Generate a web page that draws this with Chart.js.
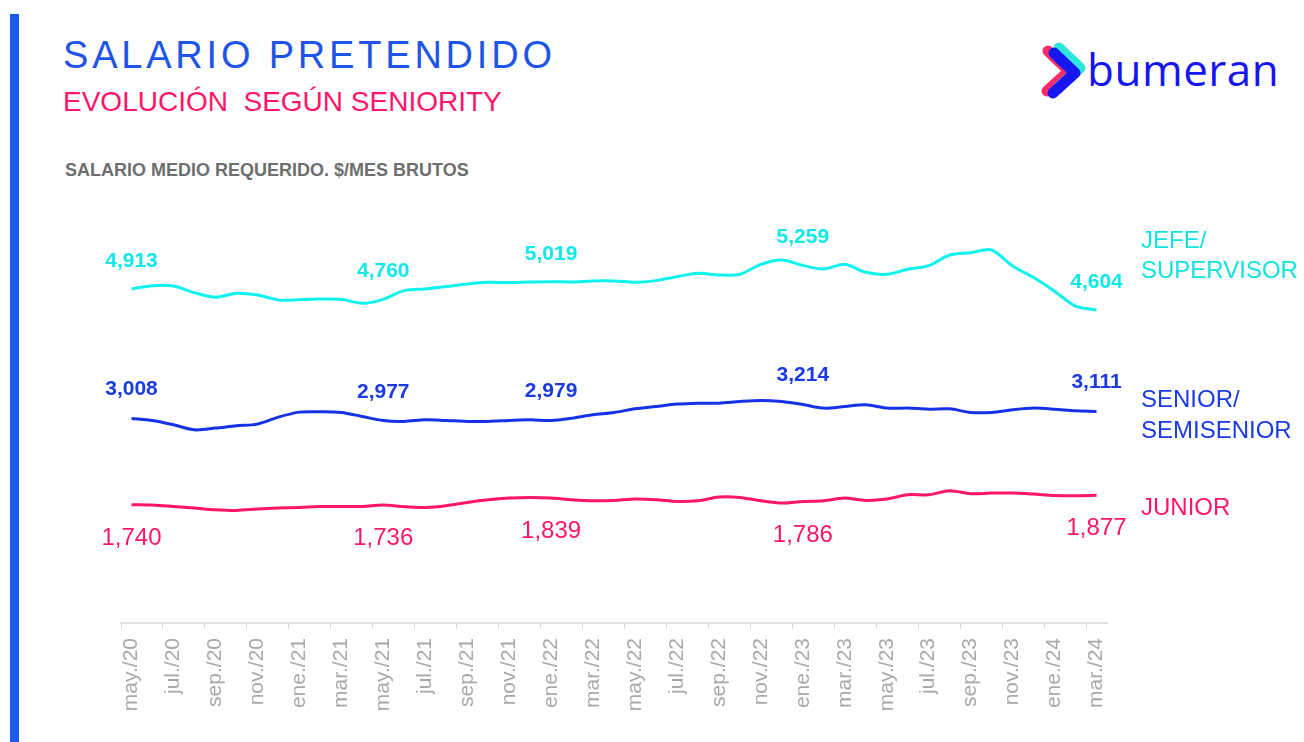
<!DOCTYPE html>
<html>
<head>
<meta charset="utf-8">
<script src="https://cdn.jsdelivr.net/npm/chart.js@4.4.1/dist/chart.umd.min.js"></script>
<style>
  html, body { margin: 0; padding: 0; background: #fff; }
  body { width: 1304px; height: 742px; position: relative; overflow: hidden; font-family: 'Liberation Sans', Arial, sans-serif; }
  #chartV { position: absolute; left: 0; top: 0; }
  .txt { position: absolute; white-space: nowrap; }
  #bar { position: absolute; left: 10px; top: 14px; width: 9px; height: 728px; background: #1f5af0; }
  #title { left: 63px; top: 36px; font-size: 38px; line-height: 38px; color: #1f55e6; letter-spacing: 3.8px; }
  #subtitle { left: 63px; top: 88px; font-size: 28px; line-height: 28px; color: #ff1569; }
  #unit { left: 65px; top: 161px; font-size: 18px; line-height: 18px; font-weight: bold; color: #6e6e6e; }
  .serie { font-size: 24px; line-height: 30px; left: 1141px; }
  #logoTxt { left: 1087px; top: 47px; font-family: 'Open Sans', sans-serif; font-size: 44px; line-height: 44px; font-weight: 500; color: #1616ee; letter-spacing: 0.5px; }
  #logoMark { position: absolute; left: 0; top: 0; }
</style>
</head>
<body>
<div id="bar"></div>
<div class="txt" id="title">SALARIO PRETENDIDO</div>
<div class="txt" id="subtitle">EVOLUCIÓN&nbsp; SEGÚN SENIORITY</div>
<div class="txt" id="unit">SALARIO MEDIO REQUERIDO. $/MES BRUTOS</div>
<svg id="logoMark" width="1304" height="120">
  <polyline points="1048,51 1069,71 1047,91" fill="none" stroke="#ff2a6a" stroke-width="11" stroke-linecap="round" stroke-linejoin="round"/>
  <polyline points="1059,48 1080,68 1058,88" fill="none" stroke="#2ee6dc" stroke-width="11" stroke-linecap="round" stroke-linejoin="round"/>
  <polyline points="1054,53 1075,73 1053,93" fill="none" stroke="#1616ee" stroke-width="11" stroke-linecap="round" stroke-linejoin="round"/>
</svg>
<div class="txt" id="logoTxt">bumeran</div>
<canvas id="chartV" width="1304" height="742"></canvas>
<div class="txt serie" style="top:225px;color:#12e2de">JEFE/<br>SUPERVISOR</div>
<div class="txt serie" style="top:383px;line-height:31px;color:#1a3be3">SENIOR/<br>SEMISENIOR</div>
<div class="txt serie" style="top:492px;color:#ff1569">JUNIOR</div>
<script>
// meses (eje x)
var months = [
  'may./20','jun./20','jul./20','ago./20','sep./20','oct./20','nov./20','dic./20',
  'ene./21','feb./21','mar./21','abr./21','may./21','jun./21','jul./21','ago./21','sep./21','oct./21','nov./21','dic./21',
  'ene./22','feb./22','mar./22','abr./22','may./22','jun./22','jul./22','ago./22','sep./22','oct./22','nov./22','dic./22',
  'ene./23','feb./23','mar./23','abr./23','may./23','jun./23','jul./23','ago./23','sep./23','oct./23','nov./23','dic./23',
  'ene./24','feb./24','mar./24'
];

// salario medio requerido por seniority
var jefe = [4913,4961,4956,4858,4790,4849,4824,4751,4755,4765,4761,4702,4760,4888,4913,4947,4986,5011,5006,5016,
  5019,5016,5030,5030,5011,5035,5094,5143,5118,5128,5275,5339,5259,5206,5275,5157,5128,5202,5255,5412,
  5446,5486,5250,5080,4880,4660,4604];
var senior = [3008,2978,2915,2841,2866,2900,2925,3028,3101,3106,3096,3037,2977,2965,2988,2978,2965,2965,2978,2988,
  2979,3013,3062,3096,3150,3184,3219,3233,3233,3257,3272,3257,3214,3160,3184,3209,3160,3160,3145,3150,
  3096,3096,3135,3160,3145,3120,3111];
var junior = [1740,1735,1714,1691,1666,1656,1676,1691,1700,1714,1714,1714,1736,1710,1700,1725,1773,1813,1838,1847,
  1839,1813,1798,1803,1823,1813,1788,1798,1852,1847,1798,1764,1786,1798,1838,1803,1823,1886,1886,1945,
  1901,1911,1911,1896,1876,1871,1877];

// meses con etiqueta de valor
var labelIdx = [0, 12, 20, 32, 46];

var fontFam = "'Liberation Sans', Arial, sans-serif";

// estilo de las etiquetas por serie
var labelStyle = [
  { font: 'bold 21px ' + fontFam, color: '#0fe8e6', dy: -22 },
  { font: 'bold 21px ' + fontFam, color: '#1a3be3', dy: -23 },
  { font: '24px ' + fontFam, color: '#ff1569', dy: 40 }
];

var valueLabels = {
  id: 'valueLabels',
  afterDatasetsDraw: function (chart) {
    var ctx = chart.ctx;
    chart.data.datasets.forEach(function (ds, di) {
      var meta = chart.getDatasetMeta(di);
      var st = labelStyle[di];
      ctx.save();
      ctx.font = st.font;
      ctx.fillStyle = st.color;
      ctx.textAlign = 'center';
      ctx.textBaseline = 'alphabetic';
      labelIdx.forEach(function (i) {
        var p = meta.data[i];
        ctx.fillText(ds.data[i].toLocaleString('en-US'), p.x, p.y + st.dy);
      });
      ctx.restore();
    });
  }
};

var ctx = document.getElementById('chartV').getContext('2d');
var chartV = new Chart(ctx, {
  type: 'line',
  data: {
    labels: months,
    datasets: [
      { label: 'JEFE/SUPERVISOR', data: jefe, borderColor: '#0ff2ee' },
      { label: 'SENIOR/SEMISENIOR', data: senior, borderColor: '#1732e6' },
      { label: 'JUNIOR', data: junior, borderColor: '#ff1569' }
    ]
  },
  options: {
    responsive: false,
    animation: false,
    layout: { padding: { left: 121, right: 197, top: 215, bottom: 0 } },
    elements: {
      point: { radius: 0 },
      line: { tension: 0.3, borderWidth: 3 }
    },
    plugins: {
      legend: { display: false },
      tooltip: { enabled: false }
    },
    scales: {
      x: {
        offset: true,
        grid: {
          offset: true,
          drawOnChartArea: false,
          tickLength: 6,
          tickColor: function (c) { return c.index % 2 === 0 ? '#dcdcdc' : 'rgba(0,0,0,0)'; }
        },
        border: { color: '#e3e3e3', width: 2 },
        ticks: {
          autoSkip: false,
          maxRotation: 90,
          minRotation: 90,
          padding: 9,
          color: '#a9a9a9',
          font: { family: fontFam, size: 21 },
          callback: function (v, i) { return i % 2 === 0 ? this.getLabelForValue(v) : ''; }
        },
        afterFit: function (s) { s.height = 119; }
      },
      y: { display: false, min: 0, max: 6000 }
    }
  },
  plugins: [valueLabels]
});
</script>
</body>
</html>
